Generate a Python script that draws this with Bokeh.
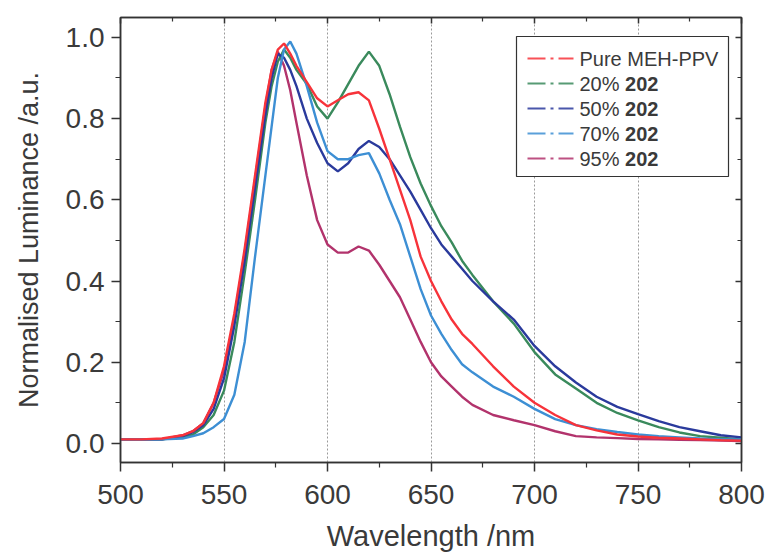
from bokeh.plotting import figure
from bokeh.models import (FixedTicker, LinearAxis, PrintfTickFormatter, Label,
                          Arrow, BoxAnnotation, CustomLabelingPolicy)
from bokeh.embed import file_html
from bokeh.resources import INLINE

# ---------------- data ----------------
wavelength = [500, 510, 520, 530, 535, 540, 545, 550, 555, 560, 565, 570, 573, 576, 579,
              582, 585, 590, 595, 600, 605, 610, 615, 620, 625, 630, 635, 640, 645, 650,
              655, 660, 665, 670, 680, 690, 700, 710, 720, 730, 740, 750, 760, 770, 780,
              790, 800]

pure_meh_ppv = [0.010, 0.010, 0.012, 0.020, 0.030, 0.050, 0.100, 0.190, 0.320, 0.480, 0.660,
                0.840, 0.920, 0.970, 0.985, 0.960, 0.930, 0.890, 0.850, 0.830, 0.845, 0.860,
                0.865, 0.845, 0.775, 0.700, 0.625, 0.550, 0.460, 0.400, 0.350, 0.305, 0.270,
                0.245, 0.190, 0.140, 0.100, 0.070, 0.045, 0.032, 0.022, 0.017, 0.014, 0.012,
                0.010, 0.008, 0.007]

pct20 = [0.010, 0.010, 0.010, 0.015, 0.022, 0.040, 0.070, 0.130, 0.250, 0.420, 0.600, 0.790,
         0.880, 0.940, 0.970, 0.950, 0.920, 0.885, 0.830, 0.800, 0.840, 0.885, 0.930, 0.965,
         0.930, 0.860, 0.780, 0.705, 0.640, 0.585, 0.535, 0.495, 0.450, 0.415, 0.350, 0.295,
         0.225, 0.170, 0.135, 0.100, 0.075, 0.057, 0.040, 0.027, 0.018, 0.014, 0.010]

pct50 = [0.010, 0.010, 0.010, 0.018, 0.028, 0.045, 0.085, 0.160, 0.290, 0.450, 0.630, 0.810,
         0.900, 0.960, 0.950, 0.920, 0.880, 0.800, 0.740, 0.690, 0.670, 0.690, 0.725, 0.745,
         0.730, 0.700, 0.660, 0.620, 0.575, 0.530, 0.490, 0.460, 0.430, 0.400, 0.350, 0.305,
         0.240, 0.190, 0.150, 0.115, 0.090, 0.072, 0.055, 0.040, 0.030, 0.020, 0.015]

pct70 = [0.010, 0.010, 0.010, 0.012, 0.018, 0.025, 0.040, 0.060, 0.120, 0.250, 0.460, 0.660,
         0.780, 0.900, 0.970, 0.990, 0.960, 0.880, 0.790, 0.720, 0.700, 0.700, 0.710, 0.715,
         0.665, 0.600, 0.540, 0.460, 0.380, 0.315, 0.270, 0.230, 0.195, 0.175, 0.140, 0.115,
         0.085, 0.060, 0.045, 0.035, 0.028, 0.022, 0.018, 0.015, 0.012, 0.010, 0.010]

pct95 = [0.010, 0.010, 0.010, 0.020, 0.030, 0.050, 0.100, 0.180, 0.310, 0.470, 0.650, 0.830,
         0.920, 0.965, 0.930, 0.870, 0.790, 0.660, 0.550, 0.490, 0.470, 0.470, 0.485, 0.475,
         0.440, 0.400, 0.360, 0.305, 0.250, 0.200, 0.165, 0.140, 0.115, 0.095, 0.070, 0.057,
         0.045, 0.030, 0.018, 0.015, 0.013, 0.011, 0.010, 0.009, 0.008, 0.007, 0.006]

legend_names = ["Pure MEH-PPV", "20%", "50%", "70%", "95%"]
legend_bold = ["", "202", "202", "202", "202"]

x_ticks = [500, 550, 600, 650, 700, 750, 800]
x_minor = [525, 575, 625, 675, 725, 775]
y_ticks = [0.0, 0.2, 0.4, 0.6, 0.8, 1.0]
y_minor = [0.1, 0.3, 0.5, 0.7, 0.9]

# ---------------- styling ----------------
colors = {
    "Pure MEH-PPV": "#f7333a",
    "20%": "#3a8a5c",
    "50%": "#2a3a9c",
    "70%": "#3d8fd4",
    "95%": "#b2336c",
}
series = {
    "Pure MEH-PPV": pure_meh_ppv,
    "20%": pct20,
    "50%": pct50,
    "70%": pct70,
    "95%": pct95,
}
FONT = "Liberation Sans"
TXT = "#3a3a3a"
AX = "#333333"

p = figure(width=767, height=554, x_range=(500, 800), y_range=(-0.047, 1.049),
           output_backend="svg", toolbar_location=None,
           min_border_left=120, min_border_right=26, min_border_top=17, min_border_bottom=92,
           x_axis_label="Wavelength /nm", y_axis_label="Normalised Luminance /a.u.")
p.background_fill_color = "white"
p.border_fill_color = "white"
p.outline_line_color = AX
p.outline_line_width = 1.5

# grid
p.xgrid.ticker = FixedTicker(ticks=x_ticks)
p.xgrid.grid_line_color = "#9a9a9a"
p.xgrid.grid_line_dash = "2 2"
p.xgrid.grid_line_width = 1
p.ygrid.visible = False

# bottom / left axes
xa = p.xaxis[0]
xa.ticker = FixedTicker(ticks=x_ticks, minor_ticks=x_minor)
ya = p.yaxis[0]
ya.ticker = FixedTicker(ticks=y_ticks, minor_ticks=y_minor)
ya.formatter = PrintfTickFormatter(format="%.1f")
for ax in (xa, ya):
    ax.axis_line_color = AX
    ax.axis_line_width = 1.5
    ax.major_tick_line_color = AX
    ax.minor_tick_line_color = AX
    ax.major_tick_line_width = 1.5
    ax.minor_tick_line_width = 1.2
    ax.major_tick_in = 0
    ax.major_tick_out = 9
    ax.minor_tick_in = 0
    ax.minor_tick_out = 5
    ax.major_label_text_font = FONT
    ax.major_label_text_font_size = "28px"
    ax.major_label_text_color = TXT
    ax.axis_label_text_font = FONT
    ax.axis_label_text_font_style = "normal"
    ax.axis_label_text_color = TXT
xa.axis_label_text_font_size = "29px"
ya.axis_label_text_font_size = "27px"
xa.major_label_standoff = 13
xa.axis_label_standoff = 13
ya.major_label_standoff = 7
ya.axis_label_standoff = 19

# mirrored top/right axes (ticks only, pointing inward, no labels drawn)
hide_all = CustomLabelingPolicy(code="""
for (const i of indices) { indices.unset(i) }
return indices
""")
top = LinearAxis(ticker=FixedTicker(ticks=x_ticks, minor_ticks=x_minor),
                 major_label_text_font_size="1px", major_label_policy=hide_all)
right = LinearAxis(ticker=FixedTicker(ticks=y_ticks, minor_ticks=y_minor),
                   major_label_text_font_size="1px", major_label_policy=hide_all)
for ax in (top, right):
    ax.axis_line_color = AX
    ax.axis_line_width = 1.5
    ax.major_tick_line_color = AX
    ax.minor_tick_line_color = AX
    ax.major_tick_line_width = 1.5
    ax.minor_tick_line_width = 1.2
    ax.major_tick_in = 6
    ax.major_tick_out = 0
    ax.minor_tick_in = 4
    ax.minor_tick_out = 0
    ax.major_label_standoff = 0
p.add_layout(top, "above")
p.add_layout(right, "right")

# curves
for name in ["95%", "20%", "50%", "70%", "Pure MEH-PPV"]:
    p.line(wavelength, series[name], line_color=colors[name], line_width=2.4)

# custom legend (screen units relative to the plot frame)
box = BoxAnnotation(left=396, right=608, top=426, bottom=286,
                    left_units="screen", right_units="screen",
                    top_units="screen", bottom_units="screen",
                    fill_color="white", fill_alpha=1.0,
                    line_color=AX, line_width=1.2, line_alpha=1.0)
p.add_layout(box)
row_y0 = 404
row_dy = 25
for i, name in enumerate(legend_names):
    y = row_y0 - i * row_dy
    p.add_layout(Arrow(end=None, x_start=407, y_start=y, x_end=453, y_end=y,
                       start_units="screen", end_units="screen",
                       line_color=colors[name], line_width=2.2, line_dash="18 5 3 5",
                       line_alpha=0.85))
    p.add_layout(Label(x=459, y=y, x_units="screen", y_units="screen", text=name,
                       text_font=FONT, text_font_size="20px", text_color=TXT,
                       text_baseline="middle", text_align="left"))
    if legend_bold[i]:
        p.add_layout(Label(x=459 + 45.6, y=y, x_units="screen", y_units="screen",
                           text=legend_bold[i], text_font=FONT, text_font_size="20px",
                           text_font_style="bold", text_color=TXT,
                           text_baseline="middle", text_align="left"))

open("out.html", "w").write(file_html(p, INLINE))
